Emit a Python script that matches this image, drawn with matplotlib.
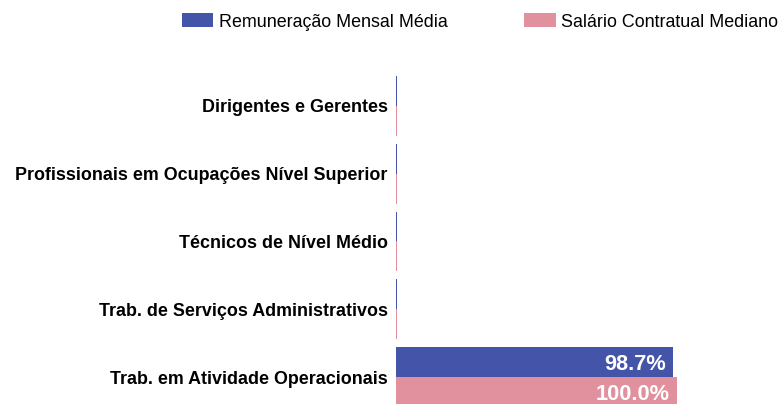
import matplotlib
matplotlib.use("Agg")
import matplotlib.pyplot as plt
import numpy as np
from matplotlib.patches import Patch

plt.rcParams['font.family'] = ['Liberation Sans', 'DejaVu Sans']

categories = ["Dirigentes e Gerentes",
              "Profissionais em Ocupações Nível Superior",
              "Técnicos de Nível Médio",
              "Trab. de Serviços Administrativos",
              "Trab. em Atividade Operacionais"]
series_names = ["Remuneração Mensal Média", "Salário Contratual Mediano"]
remuneracao = [0.3, 0.3, 0.3, 0.3, 98.7]
salario = [0.3, 0.3, 0.3, 0.3, 100.0]
colors = ["#4455A9", "#E1909E"]

W, H = 783, 404
fig = plt.figure(figsize=(W/100, H/100), dpi=100)
left_px, right_px = 396, 783
top_px, bot_px = 72, 411
ax = fig.add_axes([left_px/W, (H-bot_px)/H, (right_px-left_px)/W, (bot_px-top_px)/H])

y = np.arange(len(categories))
h = 0.44
b1 = ax.barh(y - h/2, remuneracao, height=h, color=colors[0])
b2 = ax.barh(y + h/2, salario, height=h, color=colors[1])
ax.set_xlim(0, (right_px-left_px)/2.81)
ax.set_ylim(len(categories)-0.5, -0.5)
ax.set_yticks(y)
ax.set_yticklabels(categories, fontsize=12.9, fontweight='bold')
ax.tick_params(axis='y', length=0, pad=6)
ax.set_xticks([])
for s in ax.spines.values():
    s.set_visible(False)

for bars, vals in ((b1, remuneracao), (b2, salario)):
    for rect, v in zip(bars, vals):
        if v >= 10:
            ax.annotate(f"{v:.1f}%", (v, rect.get_y() + rect.get_height()/2),
                        xytext=(-5, -1.5), textcoords='offset points',
                        ha='right', va='center', color='white', fontsize=15.7,
                        fontweight='bold')

handles = [Patch(facecolor=c) for c in colors]
fig.legend(handles, series_names, loc='center', bbox_to_anchor=(480/W, 1 - 22/H),
           ncol=2, frameon=False, fontsize=12.9, handlelength=1.75, handleheight=0.8,
           handletextpad=0.3, columnspacing=4.3)

fig.savefig("out.png", dpi=100)
